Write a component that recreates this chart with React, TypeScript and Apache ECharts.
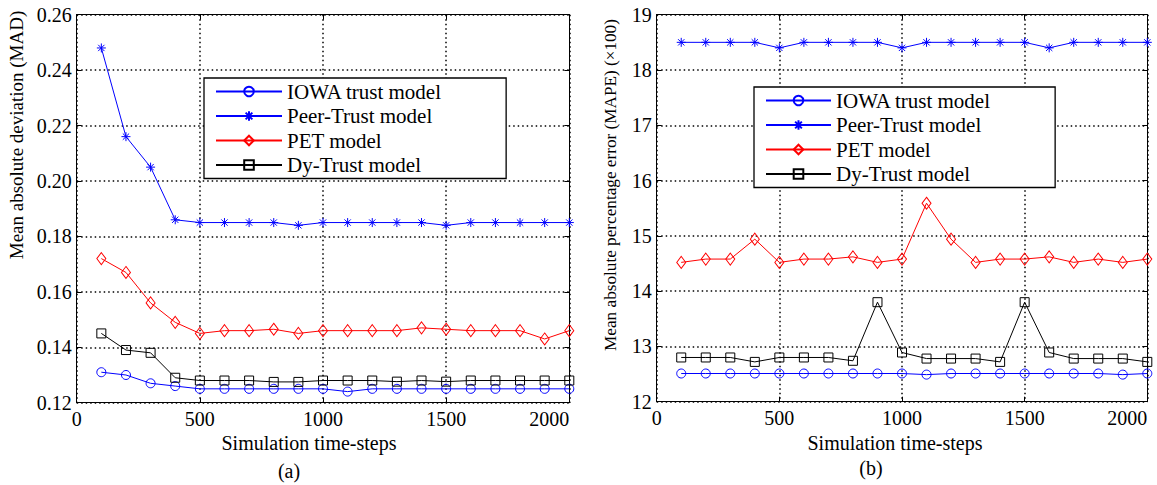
import React, { useEffect, useRef } from "react";
import * as echarts from "echarts";

const xSteps = [100, 200, 300, 400, 500, 600, 700, 800, 900, 1000, 1100, 1200, 1300, 1400, 1500, 1600, 1700, 1800, 1900, 2000];
const seriesNames = ["IOWA trust model", "Peer-Trust model", "PET model", "Dy-Trust model"];

const madIOWA = [0.131, 0.130, 0.127, 0.126, 0.125, 0.125, 0.125, 0.125, 0.125, 0.125, 0.124, 0.125, 0.125, 0.125, 0.125, 0.125, 0.125, 0.125, 0.125, 0.125];
const madPeer = [0.248, 0.216, 0.205, 0.186, 0.185, 0.185, 0.185, 0.185, 0.184, 0.185, 0.185, 0.185, 0.185, 0.185, 0.184, 0.185, 0.185, 0.185, 0.185, 0.185];
const madPET = [0.172, 0.167, 0.156, 0.149, 0.145, 0.146, 0.146, 0.1465, 0.145, 0.146, 0.146, 0.146, 0.146, 0.147, 0.1465, 0.146, 0.146, 0.146, 0.143, 0.146];
const madDy = [0.145, 0.139, 0.138, 0.129, 0.128, 0.128, 0.128, 0.1275, 0.1275, 0.128, 0.128, 0.128, 0.1276, 0.128, 0.1276, 0.128, 0.128, 0.128, 0.128, 0.128];

const mapeIOWA = [12.51, 12.51, 12.51, 12.51, 12.51, 12.51, 12.51, 12.51, 12.51, 12.51, 12.49, 12.51, 12.51, 12.51, 12.51, 12.51, 12.51, 12.51, 12.49, 12.51];
const mapePeer = [18.5, 18.5, 18.5, 18.5, 18.4, 18.5, 18.5, 18.5, 18.5, 18.4, 18.5, 18.5, 18.5, 18.5, 18.5, 18.4, 18.5, 18.5, 18.5, 18.5];
const mapePET = [14.52, 14.58, 14.58, 14.94, 14.52, 14.58, 14.58, 14.62, 14.52, 14.58, 15.59, 14.94, 14.52, 14.58, 14.58, 14.62, 14.52, 14.58, 14.52, 14.58];
const mapeDy = [12.8, 12.8, 12.8, 12.72, 12.8, 12.8, 12.8, 12.74, 13.8, 12.89, 12.78, 12.78, 12.78, 12.72, 13.8, 12.89, 12.78, 12.78, 12.78, 12.72];

const xTicks = { min: 0, max: 2000, interval: 500 };
const madTicks = { min: 0.12, max: 0.26, interval: 0.02 };
const mapeTicks = { min: 12, max: 19, interval: 1 };

const FONT = "Liberation Serif";
const TICK_FS = 20;
const BLUE = "#0000ff";
const RED = "#ff0000";
const BLACK = "#000000";
const ASTERISK = "path://M0,-10 L0,10 M-10,0 L10,0 M-7,-7 L7,7 M-7,7 L7,-7";
const GRID_LINE = { color: BLACK, type: [1.5, 3], width: 1.5 };

const styles = [
  { color: BLUE, symbol: "circle", size: 9 },
  { color: BLUE, symbol: ASTERISK, size: 9 },
  { color: RED, symbol: "diamond", size: [9, 12] },
  { color: BLACK, symbol: "rect", size: 9 },
];

function makeSeries(arrays: number[][], idx: number) {
  return arrays.map((arr, i) => ({
    type: "line",
    name: seriesNames[i],
    xAxisIndex: idx * 2,
    yAxisIndex: idx * 2,
    data: xSteps.map((x, k) => [x, arr[k]]),
    symbol: styles[i].symbol,
    symbolSize: styles[i].size,
    showAllSymbol: true,
    lineStyle: { color: styles[i].color, width: 1 },
    itemStyle: { color: "rgba(0,0,0,0)", borderColor: styles[i].color, borderWidth: 1 },
    emphasis: { disabled: true },
    z: 3,
  }));
}

function xAxes(grid: number) {
  return [
    {
      type: "value",
      gridIndex: grid,
      ...xTicks,
      position: "bottom",
      axisLine: { onZero: false, lineStyle: { color: BLACK, width: 1 } },
      axisTick: { inside: true, length: 5, lineStyle: { color: BLACK } },
      axisLabel: {
        color: BLACK,
        fontFamily: FONT,
        fontSize: TICK_FS,
        margin: 6,
        alignMaxLabel: "right",
        formatter: (v: number) => String(Math.round(v)),
      },
      splitLine: { show: true, lineStyle: GRID_LINE },
    },
    {
      type: "value",
      gridIndex: grid,
      ...xTicks,
      position: "top",
      axisLine: { onZero: false, lineStyle: { color: BLACK, width: 1 } },
      axisTick: { inside: true, length: 5, lineStyle: { color: BLACK } },
      axisLabel: { show: false },
      splitLine: { show: false },
    },
  ];
}

function yAxes(grid: number, ticks: any, fmt: (v: number) => string) {
  return [
    {
      type: "value",
      gridIndex: grid,
      ...ticks,
      position: "left",
      axisLine: { onZero: false, lineStyle: { color: BLACK, width: 1 } },
      axisTick: { inside: true, length: 5, lineStyle: { color: BLACK } },
      axisLabel: { color: BLACK, fontFamily: FONT, fontSize: TICK_FS, margin: 5, formatter: fmt },
      splitLine: { show: true, lineStyle: GRID_LINE },
    },
    {
      type: "value",
      gridIndex: grid,
      ...ticks,
      position: "right",
      axisLine: { onZero: false, lineStyle: { color: BLACK, width: 1 } },
      axisTick: { inside: true, length: 5, lineStyle: { color: BLACK } },
      axisLabel: { show: false },
      splitLine: { show: false },
    },
  ];
}

function legend(left: number, top: number, itemWidth: number) {
  return {
    orient: "vertical",
    left,
    top,
    data: seriesNames,
    itemWidth,
    itemHeight: 12,
    itemGap: 3.5,
    selectedMode: false,
    textStyle: { color: BLACK, fontFamily: FONT, fontSize: 21, lineHeight: 20 },
    padding: [3, 64, 3, 11],
    borderColor: BLACK,
    borderWidth: 1.3,
    borderRadius: 0,
    backgroundColor: "#ffffff",
    z: 10,
  };
}

function txt(text: string, x: number, y: number, fs: number, rot = 0) {
  return {
    type: "text",
    x,
    y,
    rotation: rot,
    style: {
      text,
      fill: BLACK,
      font: `${fs}px "${FONT}"`,
      textAlign: "center",
      textVerticalAlign: "middle",
      align: "center",
      verticalAlign: "middle",
    },
  };
}

export default function App() {
  const ref = useRef<HTMLDivElement>(null);
  useEffect(() => {
    if (!ref.current) return;
    const chart = echarts.init(ref.current, null, { renderer: "svg" });
    chart.setOption({
      animation: false,
      backgroundColor: "#ffffff",
      grid: [
        { left: 76.7, top: 14.7, width: 492.6, height: 388 },
        { left: 656.7, top: 14.7, width: 490.6, height: 387 },
      ],
      xAxis: [...xAxes(0), ...xAxes(1)],
      yAxis: [
        ...yAxes(0, madTicks, (v: number) => v.toFixed(2)),
        ...yAxes(1, mapeTicks, (v: number) => String(Math.round(v))),
      ],
      legend: [legend(204, 78, 66), legend(754, 87, 65)],
      series: [
        ...makeSeries([madIOWA, madPeer, madPET, madDy], 0),
        ...makeSeries([mapeIOWA, mapePeer, mapePET, mapeDy], 1),
      ],
      graphic: [
        txt("Mean absolute deviation (MAD)", 16, 135, 19, Math.PI / 2),
        txt("Mean absolute percentage error (MAPE) (×100)", 610, 185, 17.2, Math.PI / 2),
        txt("Simulation time-steps", 309, 443, 20),
        txt("Simulation time-steps", 895, 443, 20),
        txt("(a)", 289, 471, 20),
        txt("(b)", 871, 468, 20),
      ],
    });
    return () => chart.dispose();
  }, []);
  return (
    <div
      ref={ref}
      style={{ position: "fixed", left: 0, top: 0, width: 1157, height: 485, background: "#fff" }}
    />
  );
}
